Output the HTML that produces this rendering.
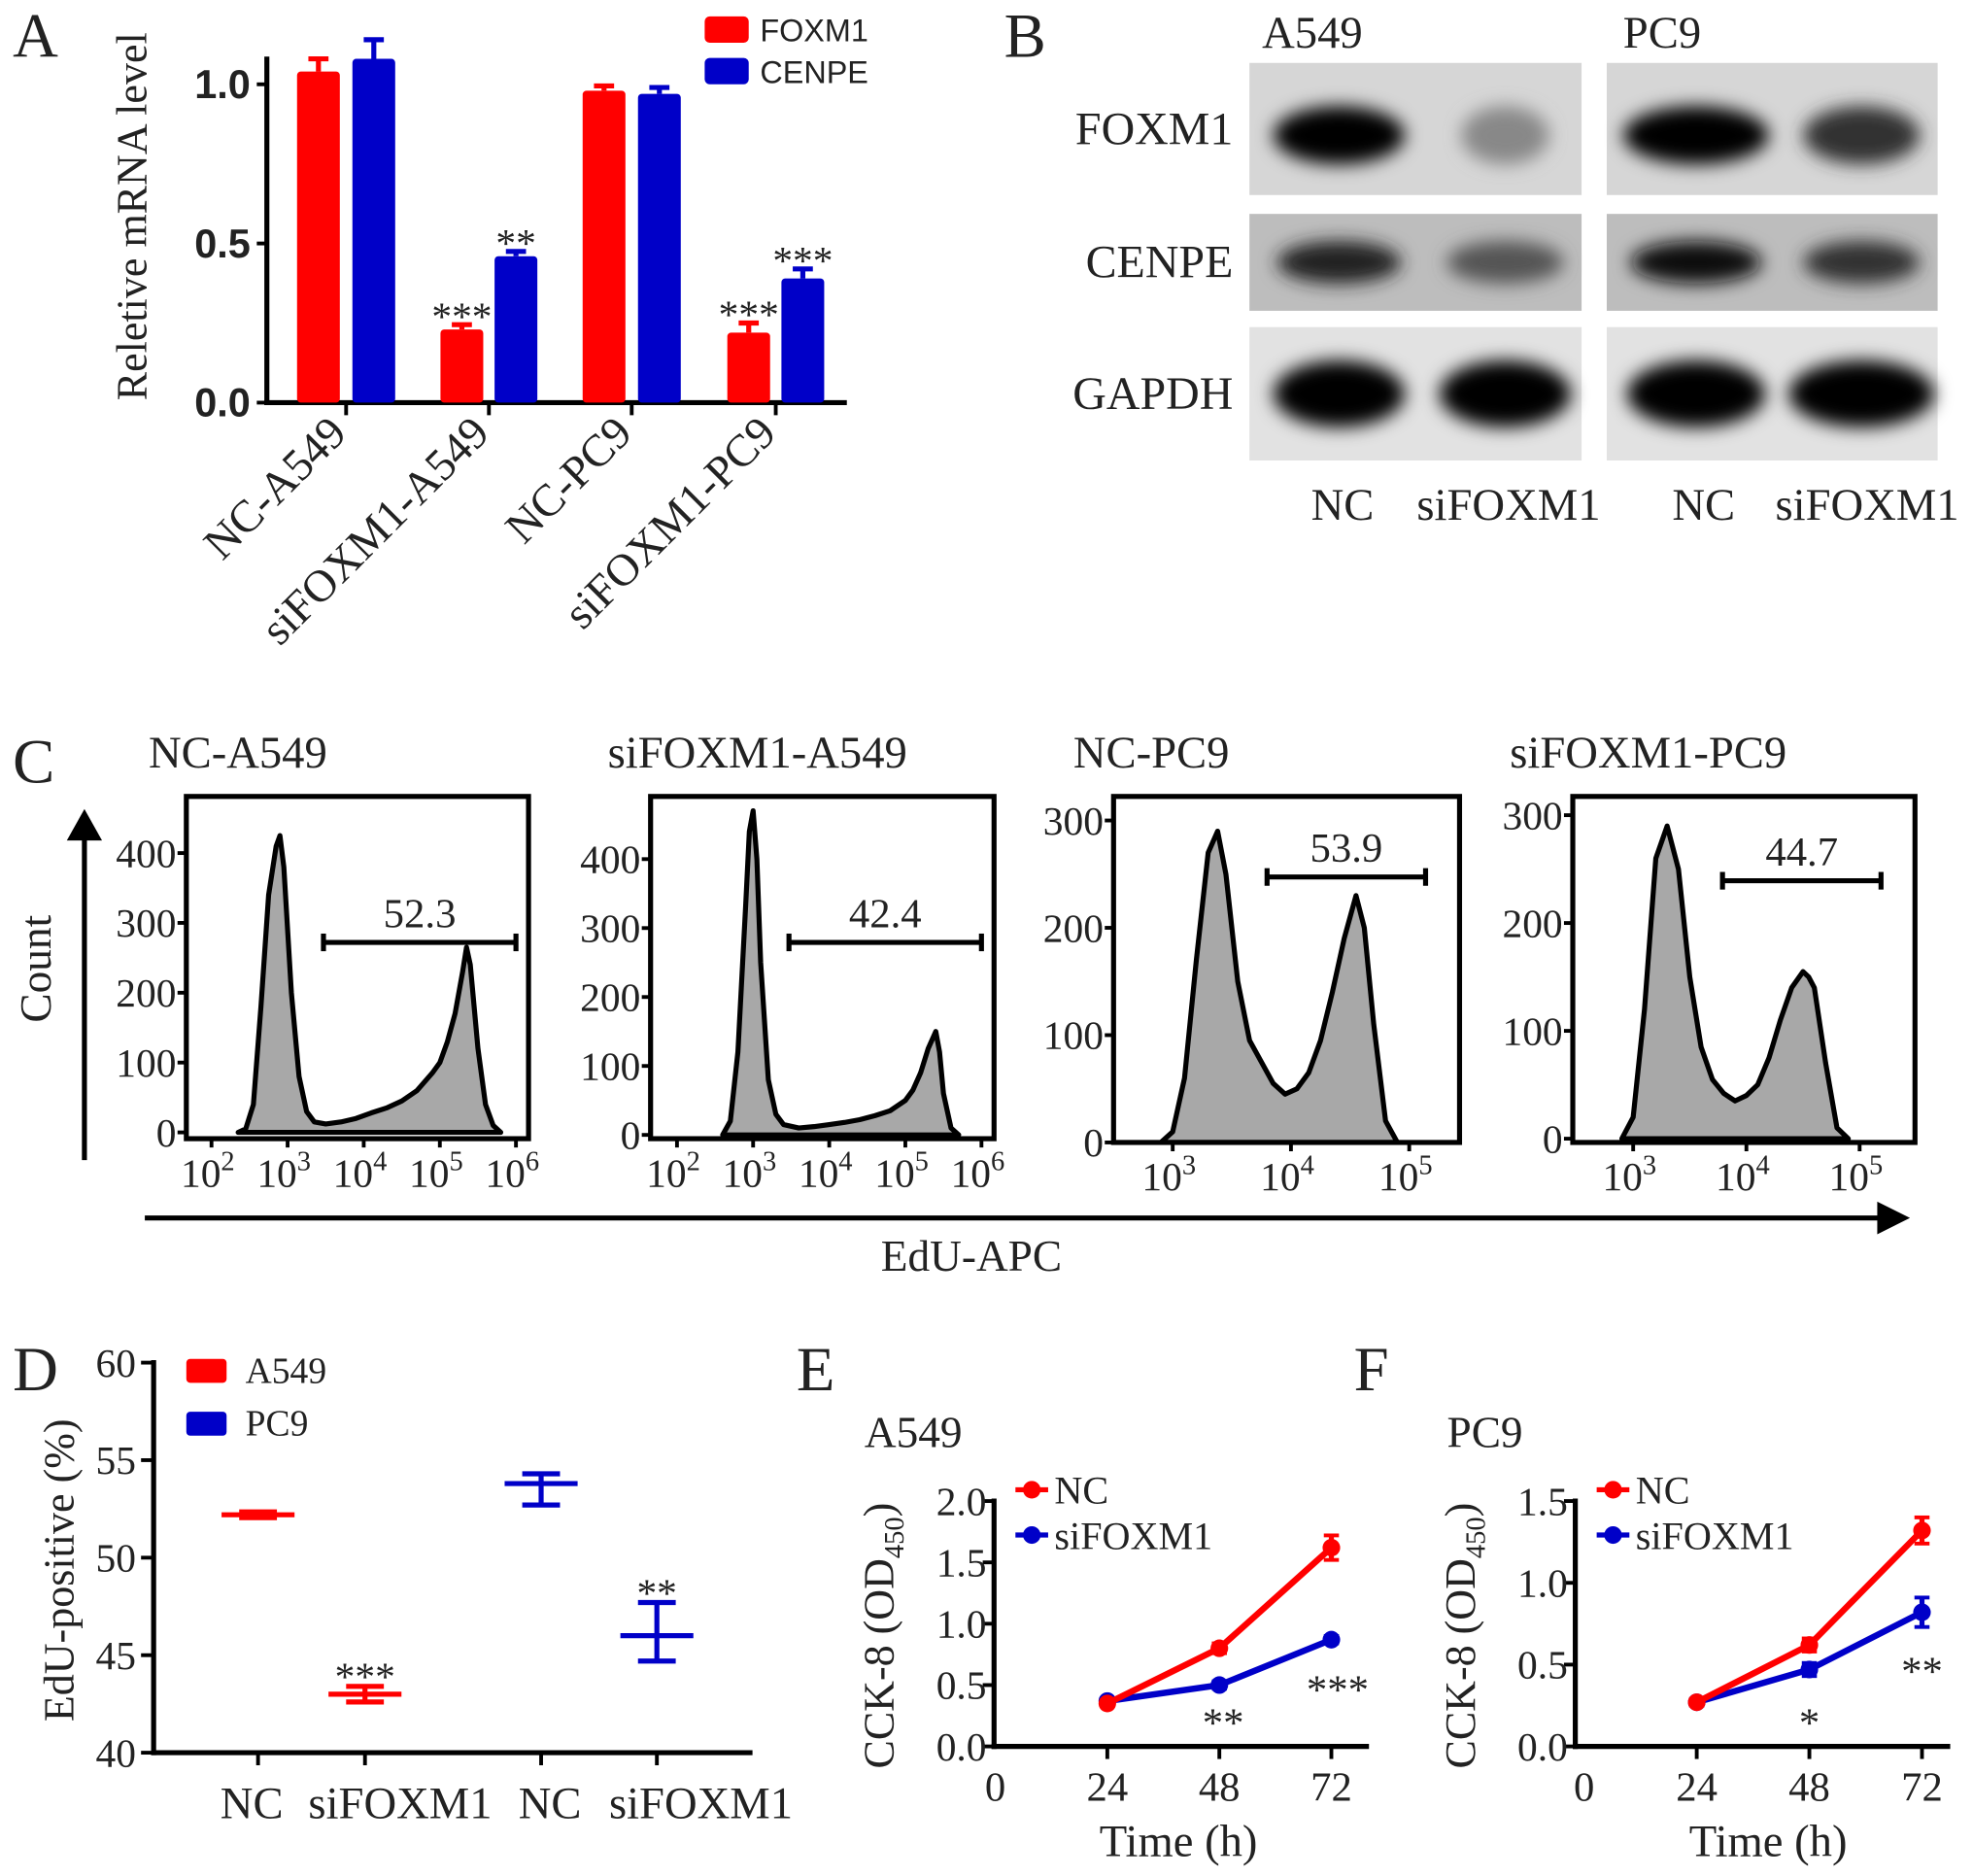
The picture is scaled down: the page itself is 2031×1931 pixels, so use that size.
<!DOCTYPE html>
<html><head><meta charset="utf-8"><style>
html,body{margin:0;padding:0;background:#fff}
svg{display:block}
text{font-family:"Liberation Serif",serif;fill:#222}
.sans{font-family:"Liberation Sans",sans-serif}
</style></head><body>
<svg id="fig" width="2031" height="1931" viewBox="0 0 1568 1491" xmlns="http://www.w3.org/2000/svg">
<defs>
<filter id="bl" x="-30%" y="-60%" width="160%" height="220%"><feGaussianBlur stdDeviation="7"/></filter>
</defs>
<g id="panelA"></g>
<g id="panelB"></g>
<g id="panelC"></g>
<g id="panelD"></g>
<g id="panelE"></g>
<g id="panelF"></g>
</svg>
<script>
// ---------- DATA ----------
const aCategories = ["NC-A549","siFOXM1-A549","NC-PC9","siFOXM1-PC9"];
const aFoxm1 = [1.04,0.23,0.98,0.22];
const aFoxm1Err = [0.04,0.015,0.015,0.03];
const aCenpe = [1.08,0.46,0.97,0.39];
const aCenpeErr = [0.06,0.015,0.02,0.03];
const aFoxStars = ["","***","","***"];
const aCenStars = ["","**","","***"];
const aTicks = ["0.0","0.5","1.0"];

const cTitles = ["NC-A549","siFOXM1-A549","NC-PC9","siFOXM1-PC9"];
const cGateValues = ["52.3","42.4","53.9","44.7"];
const c1x = [2.35,2.45,2.55,2.65,2.75,2.85,2.9,2.95,3.05,3.15,3.25,3.35,3.5,3.7,3.9,4.1,4.3,4.5,4.7,4.9,5.0,5.1,5.2,5.3,5.35,5.4,5.5,5.6,5.7,5.8];
const c1y = [0,5,40,180,340,410,425,380,200,80,30,15,12,15,20,28,35,45,60,85,100,130,170,230,265,240,120,40,10,0];
const c2x = [2.6,2.7,2.8,2.9,2.95,3.0,3.05,3.1,3.2,3.3,3.4,3.6,3.8,4.0,4.2,4.4,4.6,4.8,5.0,5.1,5.2,5.3,5.4,5.45,5.5,5.6,5.7];
const c2y = [0,20,120,330,440,470,400,250,80,30,15,10,12,15,18,22,28,35,50,65,90,125,150,120,60,10,0];
const c3x = [2.9,3.0,3.1,3.2,3.3,3.38,3.45,3.55,3.65,3.75,3.85,3.95,4.05,4.15,4.25,4.35,4.45,4.55,4.62,4.7,4.8,4.9];
const c3y = [0,10,60,170,270,290,250,150,95,75,55,45,50,65,95,140,190,230,200,110,20,0];
const c4x = [2.9,3.0,3.1,3.2,3.3,3.4,3.5,3.6,3.7,3.8,3.9,4.0,4.1,4.2,4.3,4.4,4.5,4.55,4.6,4.7,4.8,4.9];
const c4y = [0,20,120,260,290,250,150,85,55,42,35,40,50,75,110,140,155,150,140,70,10,0];

const dCategories = ["NC","siFOXM1","NC","siFOXM1"];
const dMeans = [52.2,43.0,53.8,46.0];
const dErrHi = [0.15,0.4,0.5,1.7];
const dErrLo = [0.15,0.4,1.1,1.3];
const dStars = ["","***","","**"];
const dTicks = [40,45,50,55,60];

const timeTicks = [0,24,48,72];
const eTimes = [24,48,72];
const eNC = [0.35,0.80,1.62];
const eNCErr = [0.02,0.04,0.1];
const eSi = [0.37,0.50,0.87];
const eSiErr = [0.02,0.03,0.03];
const eStars = ["","**","***"];
const eTicks = ["0.0","0.5","1.0","1.5","2.0"];
const fNC = [0.27,0.62,1.32];
const fNCErr = [0.02,0.04,0.08];
const fSi = [0.27,0.47,0.82];
const fSiErr = [0.02,0.04,0.09];
const fStars = ["","*","**"];
const fTicks = ["0.0","0.5","1.0","1.5"];

// ---------- HELPERS ----------
const NS="http://www.w3.org/2000/svg";
function el(parent,tag,attrs,txt){const e=document.createElementNS(NS,tag);for(const k in attrs)e.setAttribute(k,attrs[k]);if(txt!==undefined)e.textContent=txt;parent.appendChild(e);return e;}
const RED="#ff0000", BLUE="#0000c8";

const fig=document.getElementById('fig');
[["A",10,45],["B",798,45],["C",10,622],["D",10,1105],["E",633,1105],["F",1076,1105]].forEach(l=>{
 const t=el(fig,'text',{x:l[1],y:l[2],'font-size':50},l[0]);
 
 
});

// ---------- PANEL A ----------
(function(){
 const g=document.getElementById('panelA');
 const y0=320, py=253;
 const ay=v=>y0-v*py;
 const cx=[[253,297],[367,410],[480,524],[595,638]];
 el(g,'line',{x1:212,y1:45,x2:212,y2:322,stroke:'#000','stroke-width':4});
 el(g,'line',{x1:210,y1:320,x2:673,y2:320,stroke:'#000','stroke-width':4});
 aTicks.forEach(t=>{const v=parseFloat(t);
  el(g,'line',{x1:204,y1:ay(v),x2:212,y2:ay(v),stroke:'#000','stroke-width':3});
  const tx=el(g,'text',{x:199,y:ay(v)+11,'font-size':32,'font-weight':'bold','text-anchor':'end',class:'sans'},t);
  
  
 });
 const yt=el(g,'text',{x:0,y:0,'font-size':34,'text-anchor':'middle',transform:'translate(116,172) rotate(-90)'},'Reletive mRNA level');
 
 
 aCategories.forEach((c,i)=>{
  const tickX=(cx[i][0]+cx[i][1])/2;
  el(g,'line',{x1:tickX,y1:320,x2:tickX,y2:330,stroke:'#000','stroke-width':3});
  const lbl=el(g,'text',{x:0,y:0,'font-size':36,'text-anchor':'end',transform:`translate(${tickX+2},${346}) rotate(-45)`},c);
  
  
  [[aFoxm1,aFoxm1Err,RED,aFoxStars,0],[aCenpe,aCenpeErr,BLUE,aCenStars,1]].forEach(s=>{
   const x=cx[i][s[4]], v=s[0][i], e=s[1][i];
   const b=el(g,'rect',{x:x-17,y:ay(v),width:34,height:y0-ay(v),fill:s[2],rx:3});
   
   
   el(g,'line',{x1:x,y1:ay(v),x2:x,y2:ay(v+e),stroke:s[2],'stroke-width':4});
   el(g,'line',{x1:x-8,y1:ay(v+e),x2:x+8,y2:ay(v+e),stroke:s[2],'stroke-width':4});
   if(s[3][i]){const st=el(g,'text',{x:x,y:ay(v+e)+4,'font-size':32,'text-anchor':'middle'},s[3][i]);
    
    }
  });
 });
 [["FOXM1",RED,13],["CENPE",BLUE,46]].forEach(l=>{
  const lg=el(g,'g',{});
  
  
  el(lg,'rect',{x:560,y:l[2],width:35,height:21,fill:l[1],rx:4});
  el(lg,'text',{x:604,y:l[2]+20,'font-size':25,class:'sans'},l[0]);
 });
})();

// ---------- PANEL B ----------
(function(){
 const g=document.getElementById('panelB');
 const panels=[[993,1257],[1277,1540]];
 const rows=[["FOXM1",50,155,'#d6d6d6'],["CENPE",170,247,'#bdbdbd'],["GAPDH",260,366,'#e2e2e2']];
 const bands=[[[[0.9,'#050505'],[0.6,'#888']],[[0.85,'#222'],[0.8,'#555']],[[0.9,'#000'],[0.9,'#000']]],
              [[[1.0,'#000'],[0.8,'#333']],[[0.9,'#111'],[0.8,'#333']],[[0.95,'#000'],[1.0,'#000']]]];
 rows.forEach((r,ri)=>{
  const lt=el(g,'text',{x:980,y:(r[1]+r[2])/2+12,'font-size':37,'text-anchor':'end'},r[0]);
  
  
  panels.forEach((p,pi)=>{
   const bg=el(g,'rect',{x:p[0],y:r[1],width:p[1]-p[0],height:r[2]-r[1],fill:r[3]});
   
   
   const w=p[1]-p[0];
   [0.27,0.77].forEach((f,li)=>{
    const bd=bands[pi][ri][li];
    const cy=(r[1]+r[2])/2+(ri==0?5:0);
    const e=el(g,'ellipse',{cx:p[0]+w*f,cy:cy,rx:w*0.22*bd[0],ry:(r[2]-r[1])*(ri==2?0.25:0.22),fill:bd[1],filter:'url(#bl)'});
    
    
   });
  });
 });
 [["A549",1003],["PC9",1290]].forEach(t=>{const x=el(g,'text',{x:t[1],y:38,'font-size':36},t[0]);
  });
 [["NC",1067],["siFOXM1",1199],["NC",1354],["siFOXM1",1484]].forEach(t=>{const x=el(g,'text',{x:t[1],y:413,'font-size':36,'text-anchor':'middle'},t[0]);
  });
})();

// ---------- PANEL C ----------
(function(){
 const g=document.getElementById('panelC');
 const cfg=[
  {box:[148,633,420,905],lx0:168,lv0:2,dec:60.5,y0:900,py:0.555,decs:[2,3,4,5,6],yt:[0,100,200,300,400],gate:[257,410,749],tx:118,xs:c1x,ys:c1y},
  {box:[517,633,790,905],lx0:538,lv0:2,dec:60.5,y0:902,py:0.548,decs:[2,3,4,5,6],yt:[0,100,200,300,400],gate:[627,780,749],tx:483,xs:c2x,ys:c2y},
  {box:[885,633,1160,908],lx0:932,lv0:3,dec:94,y0:908,py:0.853,decs:[3,4,5],yt:[0,100,200,300],gate:[1007,1133,697],tx:853,xs:c3x,ys:c3y},
  {box:[1250,633,1522,908],lx0:1298,lv0:3,dec:90,y0:905,py:0.857,decs:[3,4,5],yt:[0,100,200,300],gate:[1369,1495,700],tx:1200,xs:c4x,ys:c4y}];
 cfg.forEach((c,i)=>{
  const sx=v=>c.lx0+(v-c.lv0)*c.dec, sy=v=>c.y0-v*c.py;
  const t=el(g,'text',{x:c.tx,y:610,'font-size':36},cTitles[i]);
  
  let d='M'+sx(c.xs[0])+','+c.y0;
  c.xs.forEach((x,k)=>{d+=' L'+sx(x).toFixed(1)+','+sy(c.ys[k]).toFixed(1);});
  d+=' L'+sx(c.xs[c.xs.length-1])+','+c.y0+' Z';
  const h=el(g,'path',{d:d,fill:'#a8a8a8',stroke:'#000','stroke-width':4,'stroke-linejoin':'round'});
  
  const b=el(g,'rect',{x:c.box[0],y:c.box[1],width:c.box[2]-c.box[0],height:c.box[3]-c.box[1],fill:'none',stroke:'#000','stroke-width':4});
  
  c.yt.forEach(v=>{
   el(g,'line',{x1:c.box[0]-7,y1:sy(v),x2:c.box[0],y2:sy(v),stroke:'#000','stroke-width':3});
   const l=el(g,'text',{x:c.box[0]-8,y:sy(v)+11,'font-size':32,'text-anchor':'end'},String(v));
   
  });
  c.decs.forEach(v=>{
   el(g,'line',{x1:sx(v),y1:c.box[3],x2:sx(v),y2:c.box[3]+7,stroke:'#000','stroke-width':3});
   const l=el(g,'text',{x:sx(v)-3,y:c.box[3]+38,'font-size':32,'text-anchor':'middle'},'10');
   el(l,'tspan',{dy:-13,'font-size':22},String(v));
   
  });
  const gt=c.gate;
  el(g,'line',{x1:gt[0],y1:gt[2],x2:gt[1],y2:gt[2],stroke:'#000','stroke-width':4});
  el(g,'line',{x1:gt[0],y1:gt[2]-7,x2:gt[0],y2:gt[2]+7,stroke:'#000','stroke-width':4});
  el(g,'line',{x1:gt[1],y1:gt[2]-7,x2:gt[1],y2:gt[2]+7,stroke:'#000','stroke-width':4});
  const gv=el(g,'text',{x:(gt[0]+gt[1])/2,y:gt[2]-12,'font-size':33,'text-anchor':'middle'},cGateValues[i]);
  
 });
 el(g,'line',{x1:67,y1:922,x2:67,y2:665,stroke:'#000','stroke-width':4});
 el(g,'polygon',{points:'53,668 81,668 67,643',fill:'#000'});
 const ct=el(g,'text',{x:0,y:0,'font-size':35,'text-anchor':'middle',transform:'translate(40,770) rotate(-90)'},'Count');
 
 el(g,'line',{x1:115,y1:968,x2:1495,y2:968,stroke:'#000','stroke-width':4});
 el(g,'polygon',{points:'1492,955 1492,981 1518,968',fill:'#000'});
 const et=el(g,'text',{x:772,y:1010,'font-size':35,'text-anchor':'middle'},'EdU-APC');
 
})();

// ---------- PANEL D ----------
(function(){
 const g=document.getElementById('panelD');
 const sy=v=>1393-(v-40)*15.5;
 const xs=[205,290,430,522];
 const lx=[200,318,437,557];
 el(g,'line',{x1:122,y1:1081,x2:122,y2:1395,stroke:'#000','stroke-width':4});
 el(g,'line',{x1:120,y1:1393,x2:598,y2:1393,stroke:'#000','stroke-width':4});
 dTicks.forEach(v=>{
  el(g,'line',{x1:112,y1:sy(v),x2:122,y2:sy(v),stroke:'#000','stroke-width':3});
  const t=el(g,'text',{x:108,y:sy(v)+11,'font-size':32,'text-anchor':'end'},String(v));
  
 });
 const yt=el(g,'text',{x:0,y:0,'font-size':34,'text-anchor':'middle',transform:'translate(58,1248) rotate(-90)'},'EdU-positive (%)');
 
 dCategories.forEach((c,i)=>{
  const col=i<2?RED:BLUE, x=xs[i];
  el(g,'line',{x1:x,y1:1393,x2:x,y2:1403,stroke:'#000','stroke-width':3});
  const l=el(g,'text',{x:lx[i],y:1445,'font-size':36,'text-anchor':'middle'},c);
  
  const m=el(g,'g',{});
  
  
  el(m,'line',{x1:x-29,y1:sy(dMeans[i]),x2:x+29,y2:sy(dMeans[i]),stroke:col,'stroke-width':4});
  el(m,'line',{x1:x,y1:sy(dMeans[i]+dErrHi[i]),x2:x,y2:sy(dMeans[i]-dErrLo[i]),stroke:col,'stroke-width':4});
  el(m,'line',{x1:x-15,y1:sy(dMeans[i]+dErrHi[i]),x2:x+15,y2:sy(dMeans[i]+dErrHi[i]),stroke:col,'stroke-width':4});
  el(m,'line',{x1:x-15,y1:sy(dMeans[i]-dErrLo[i]),x2:x+15,y2:sy(dMeans[i]-dErrLo[i]),stroke:col,'stroke-width':4});
  if(dStars[i]){const s=el(g,'text',{x:x,y:sy(dMeans[i]+dErrHi[i])+3,'font-size':32,'text-anchor':'middle'},dStars[i]);
   }
 });
 [["A549",RED,1080],["PC9",BLUE,1122]].forEach(l=>{
  const lg=el(g,'g',{});
  
  
  el(lg,'rect',{x:148,y:l[2],width:32,height:19,fill:l[1],rx:3});
  el(lg,'text',{x:195,y:l[2]+19,'font-size':29},l[0]);
 });
})();

// ---------- PANELS E/F ----------
function growth(id,cfg){
 const g=document.getElementById(id);
 const sx=t=>cfg.x0+t*cfg.px, sy=v=>1388-v*cfg.py;
 const title=el(g,'text',{x:cfg.titleX,y:1150,'font-size':35},cfg.title);
 
 el(g,'line',{x1:cfg.ax,y1:sy(cfg.ticks[cfg.ticks.length-1].v)-2,x2:cfg.ax,y2:1390,stroke:'#000','stroke-width':4});
 el(g,'line',{x1:cfg.ax-2,y1:1388,x2:cfg.ax+298,y2:1388,stroke:'#000','stroke-width':4});
 cfg.ticks.forEach(t=>{
  const v=parseFloat(t.v);
  el(g,'line',{x1:cfg.ax-9,y1:sy(v),x2:cfg.ax,y2:sy(v),stroke:'#000','stroke-width':3});
  const l=el(g,'text',{x:cfg.ax-6,y:sy(v)+11,'font-size':32,'text-anchor':'end'},t.s);
  
 });
 timeTicks.forEach(t=>{
  if(t>0) el(g,'line',{x1:sx(t),y1:1388,x2:sx(t),y2:1398,stroke:'#000','stroke-width':3});
  const l=el(g,'text',{x:sx(t),y:1431,'font-size':33,'text-anchor':'middle'},String(t));
  
 });
 const xt=el(g,'text',{x:cfg.x0+36*cfg.px+12,y:1475,'font-size':36,'text-anchor':'middle'},'Time (h)');
 
 const yt=el(g,'text',{x:0,y:0,'font-size':34,'text-anchor':'middle',transform:`translate(${cfg.ax-80},1300) rotate(-90)`},'CCK-8 (OD');
 el(yt,'tspan',{dy:8,'font-size':22},'450');
 el(yt,'tspan',{dy:-8},')');
 
 [[cfg.si,cfg.siErr,BLUE,'siFOXM1'],[cfg.nc,cfg.ncErr,RED,'NC']].forEach(s=>{
  const ln=el(g,'polyline',{points:eTimes.map((t,k)=>sx(t)+','+sy(s[0][k])).join(' '),fill:'none',stroke:s[2],'stroke-width':5});
  
  eTimes.forEach((t,k)=>{
   const x=sx(t),v=s[0][k],e=s[1][k];
   el(g,'line',{x1:x,y1:sy(v+e),x2:x,y2:sy(v-e),stroke:s[2],'stroke-width':4});
   el(g,'line',{x1:x-6,y1:sy(v+e),x2:x+6,y2:sy(v+e),stroke:s[2],'stroke-width':3});
   el(g,'line',{x1:x-6,y1:sy(v-e),x2:x+6,y2:sy(v-e),stroke:s[2],'stroke-width':3});
   const p=el(g,'circle',{cx:x,cy:sy(v),r:7,fill:s[2]});
   
  });
 });
 eTimes.forEach((t,k)=>{ if(cfg.stars[k]){
  const s=el(g,'text',{x:sx(t)+cfg.starDx[k],y:sy(cfg.si[k]-cfg.siErr[k])+cfg.starDy[k],'font-size':33,'text-anchor':'middle'},cfg.stars[k]);
  }});
 [["NC",RED,1192],["siFOXM1",BLUE,1228]].forEach(l=>{
  const lg=el(g,'g',{});
  
  
  el(lg,'line',{x1:cfg.ax+17,y1:l[2]-8,x2:cfg.ax+43,y2:l[2]-8,stroke:l[1],'stroke-width':4});
  el(lg,'circle',{cx:cfg.ax+30,cy:l[2]-8,r:7,fill:l[1]});
  el(lg,'text',{x:cfg.ax+48,y:l[2]+3,'font-size':31},l[0]);
 });
}
growth('panelE',{title:'A549',titleX:687,ax:790,x0:791,px:3.71,py:97.5,ticks:eTicks.map(s=>({s:s,v:parseFloat(s)})),
 nc:eNC,ncErr:eNCErr,si:eSi,siErr:eSiErr,stars:eStars,starDx:[0,3,5],starDy:[0,38,48]});
growth('panelF',{title:'PC9',titleX:1150,ax:1252,x0:1259,px:3.73,py:130,ticks:fTicks.map(s=>({s:s,v:parseFloat(s)})),
 nc:fNC,ncErr:fNCErr,si:fSi,siErr:fSiErr,stars:fStars,starDx:[0,0,0],starDy:[0,48,46]});
</script>
</body></html>
